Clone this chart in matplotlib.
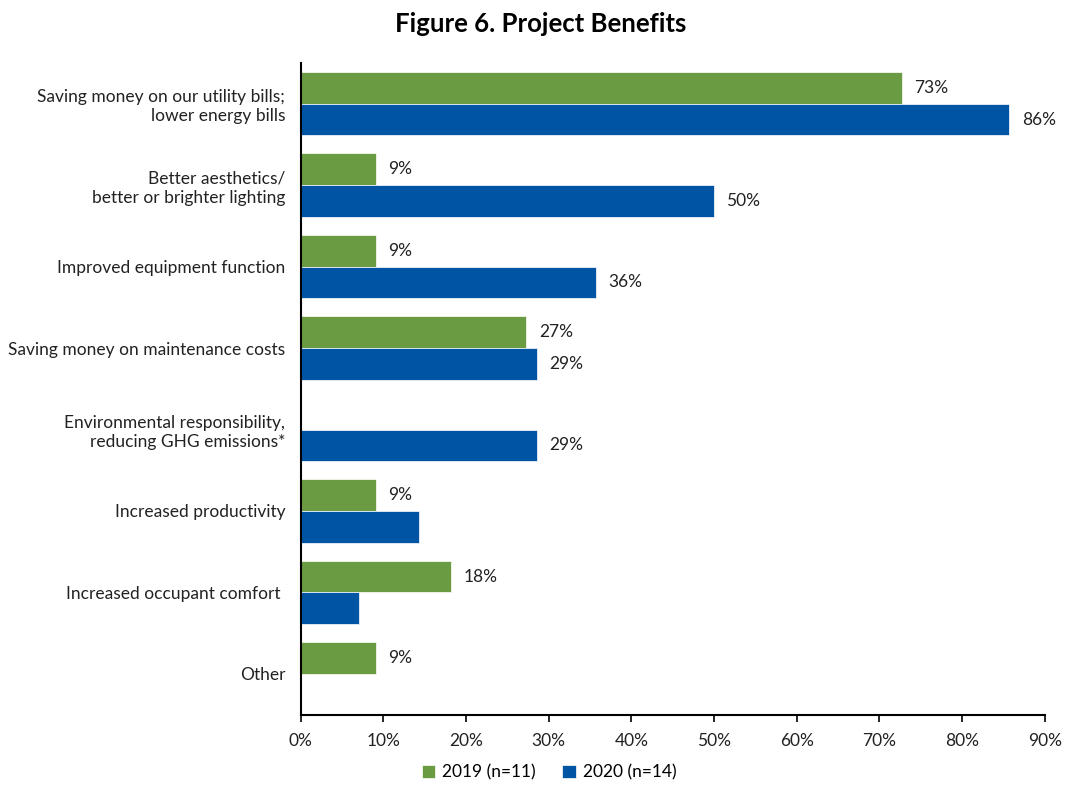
import numpy as np
import matplotlib.pyplot as plt

plt.rcParams['font.family'] = ['Lato', 'DejaVu Sans']

categories = [
    'Saving money on our utility bills;\nlower energy bills',
    'Better aesthetics/\nbetter or brighter lighting',
    'Improved equipment function',
    'Saving money on maintenance costs',
    'Environmental responsibility,\nreducing GHG emissions*',
    'Increased productivity',
    'Increased occupant comfort ',
    'Other',
]
# share of respondents, percent
pct_2019 = [72.7, 9.1, 9.1, 27.3, 0.0, 9.1, 18.2, 9.1]
pct_2020 = [85.7, 50.0, 35.7, 28.6, 28.6, 14.3, 7.1, 0.0]
labels_2019 = ['73%', '9%', '9%', '27%', '', '9%', '18%', '9%']
labels_2020 = ['86%', '50%', '36%', '29%', '29%', '', '', '']

green = '#6a9a41'
blue = '#0054a4'
fs = 12.5

fig = plt.figure(figsize=(10.66, 7.87), dpi=100)
ax = fig.add_axes([0.282, 0.092, 0.698, 0.828])

y = np.arange(len(categories))
h = 0.39
b1 = ax.barh(y - h / 2, pct_2019, height=h, color=green, edgecolor='white',
             linewidth=0.5, label='2019 (n=11)')
b2 = ax.barh(y + h / 2, pct_2020, height=h, color=blue, edgecolor='white',
             linewidth=0.5, label='2020 (n=14)')
ax.bar_label(b1, labels=labels_2019, padding=9, fontsize=fs, color='#222222')
ax.bar_label(b2, labels=labels_2020, padding=9, fontsize=fs, color='#222222')

ax.set_ylim(len(categories) - 0.5, -0.5)
ax.set_yticks(y)
ax.set_yticklabels(categories, fontsize=fs, color='#222222', linespacing=1.25)
ax.tick_params(axis='y', length=0, pad=11)

ax.set_xlim(0, 90)
ax.set_xticks(np.arange(0, 91, 10))
ax.set_xticklabels([f'{v}%' for v in range(0, 91, 10)], fontsize=fs, color='#222222')
ax.tick_params(axis='x', direction='out', length=5, width=1.2, pad=8)

for side in ['top', 'right']:
    ax.spines[side].set_visible(False)
for side in ['left', 'bottom']:
    ax.spines[side].set_linewidth(1.5)
    ax.spines[side].set_color('black')

fig.suptitle('Figure 6. Project Benefits', fontsize=18.5, fontweight='bold',
             x=0.507, y=0.985)

fig.legend(loc='lower center', bbox_to_anchor=(0.515, -0.012), ncol=2, frameon=False,
           fontsize=fs, handlelength=0.8, handleheight=0.8, handletextpad=0.4,
           columnspacing=1.5)

fig.savefig('out.png', dpi=100)
